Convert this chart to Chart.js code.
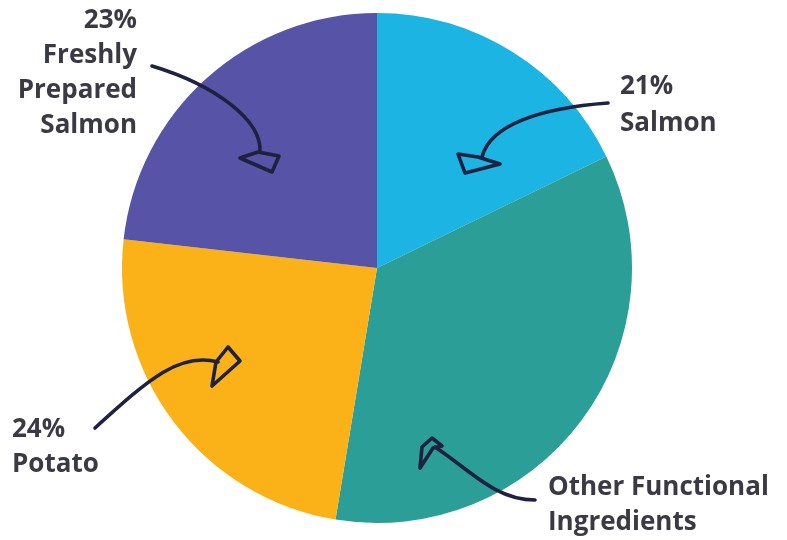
<!DOCTYPE html>
<html>
<head>
<meta charset="utf-8">
<style>
  html, body { margin: 0; padding: 0; background: #ffffff; }
  #wrap { width: 787px; height: 540px; position: relative; }
</style>
<script src="https://cdn.jsdelivr.net/npm/chart.js@4.4.1/dist/chart.umd.min.js"></script>
</head>
<body>
<div id="wrap"><canvas id="c" width="787" height="540"></canvas></div>
<script>
// Data (slice sizes as drawn in the picture, clockwise from 12 o'clock)
const categories = ["Salmon", "Other Functional Ingredients", "Potato", "Freshly Prepared Salmon"];
const shares = [17.8, 34.8, 24.2, 23.2];
const labelTexts = [
  ["21%", "Salmon"],
  ["Other Functional", "Ingredients"],
  ["24%", "Potato"],
  ["23%", "Freshly", "Prepared", "Salmon"]
];
const sliceColors = ["#1bb4e3", "#2a9e97", "#fbb218", "#5753a6"];

const TEXT_COLOR = "#3a3a44";
const ARROW_COLOR = "#1e2140";
const FONT = "bold 26px 'Open Sans', Lato, sans-serif";

// annotation geometry, expressed relative to pie centre in units of a 255px radius
const annotations = [
  { // Salmon
    text: { x: 243, y: -181, align: "left", lh: 37 },
    path: [[231, -165], [163, -160], [113, -143], [105, -111]],
    head: [[81, -114], [101, -111], [123, -104], [88, -95]]
  },
  { // Other Functional Ingredients
    text: { x: 171, y: 220, align: "left", lh: 35 },
    path: [[158, 232], [118, 232], [93, 202], [58, 179]],
    head: [[43, 200], [45, 179], [55, 170], [65, 178], [56, 180]]
  },
  { // Potato
    text: { x: -365, y: 162, align: "left", lh: 35 },
    path: [[-282, 160], [-227, 110], [-197, 84], [-159, 94]],
    head: [[-149, 79], [-137, 93], [-165, 118], [-161, 94]]
  },
  { // Freshly Prepared Salmon
    text: { x: -240, y: -247, align: "right", lh: 35 },
    path: [[-225, -202], [-162, -183], [-115, -148], [-117, -116]],
    head: [[-137, -110], [-119, -116], [-98, -112], [-105, -96]]
  }
];

const annotationPlugin = {
  id: "arrowLabels",
  afterDatasetsDraw(chart) {
    const arc = chart.getDatasetMeta(0).data[0];
    const cx = arc.x, cy = arc.y, k = arc.outerRadius / 255;
    const P = (p) => [cx + p[0] * k, cy + p[1] * k];
    const ctx = chart.ctx;
    ctx.save();
    annotations.forEach((a, i) => {
      // arrow shaft
      const pts = a.path.map(P);
      ctx.strokeStyle = ARROW_COLOR;
      ctx.lineWidth = 3.6;
      ctx.lineCap = "round";
      ctx.lineJoin = "round";
      ctx.beginPath();
      ctx.moveTo(pts[0][0], pts[0][1]);
      ctx.bezierCurveTo(pts[1][0], pts[1][1], pts[2][0], pts[2][1], pts[3][0], pts[3][1]);
      ctx.stroke();
      // hollow hand-drawn head
      const h = a.head.map(P);
      ctx.beginPath();
      ctx.moveTo(h[0][0], h[0][1]);
      for (let j = 1; j < h.length; j++) ctx.lineTo(h[j][0], h[j][1]);
      ctx.closePath();
      ctx.stroke();
      // label text
      ctx.fillStyle = TEXT_COLOR;
      ctx.font = FONT;
      ctx.textAlign = a.text.align;
      ctx.textBaseline = "middle";
      const [tx, ty] = P([a.text.x, a.text.y]);
      labelTexts[i].forEach((line, j) => {
        ctx.fillText(line, tx, ty + j * a.text.lh);
      });
    });
    ctx.restore();
  }
};

new Chart(document.getElementById("c"), {
  type: "pie",
  data: {
    labels: categories,
    datasets: [{
      data: shares,
      backgroundColor: sliceColors,
      borderWidth: 0,
      hoverOffset: 0
    }]
  },
  options: {
    responsive: false,
    animation: false,
    rotation: 0,
    layout: { padding: { top: 13, bottom: 17, left: 122, right: 155 } },
    plugins: {
      legend: { display: false },
      tooltip: { enabled: false },
      title: { display: false }
    }
  },
  plugins: [annotationPlugin]
});
</script>
</body>
</html>
